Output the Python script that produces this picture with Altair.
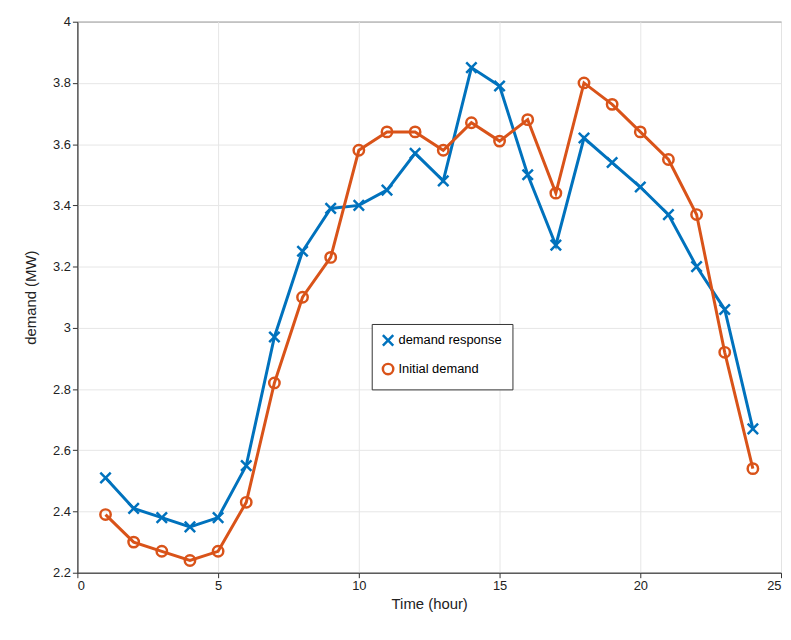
import altair as alt
import pandas as pd

hours = list(range(1, 25))
response = [2.51, 2.41, 2.38, 2.35, 2.38, 2.55, 2.97, 3.25, 3.39, 3.40, 3.45, 3.57,
            3.48, 3.85, 3.79, 3.50, 3.27, 3.62, 3.54, 3.46, 3.37, 3.20, 3.06, 2.67]
initial = [2.39, 2.30, 2.27, 2.24, 2.27, 2.43, 2.82, 3.10, 3.23, 3.58, 3.64, 3.64,
           3.58, 3.67, 3.61, 3.68, 3.44, 3.80, 3.73, 3.64, 3.55, 3.37, 2.92, 2.54]
series = ["demand response", "Initial demand"]

rows = []
for h, a, b in zip(hours, response, initial):
    rows.append({"hour": h, "demand": a, "series": series[0]})
    rows.append({"hour": h, "demand": b, "series": series[1]})
df = pd.DataFrame(rows)

xshape = "M-1,-1L1,1M-1,1L1,-1"
color = alt.Color("series:N", scale=alt.Scale(domain=series, range=["#0072BD", "#D95319"]),
                  legend=alt.Legend(title=None, orient="none", legendX=297, legendY=305,
                                    fillColor="white", strokeColor="#333", padding=10,
                                    labelFontSize=13, labelFont="Liberation Sans",
                                    labelLimit=300, rowPadding=8,
                                    symbolStrokeWidth=2.5, symbolSize=110))
shape = alt.Shape("series:N", scale=alt.Scale(domain=series, range=[xshape, "circle"]), legend=None)

x = alt.X("hour:Q", title="Time (hour)", scale=alt.Scale(domain=[0, 25], nice=False),
          axis=alt.Axis(values=[0, 5, 10, 15, 20, 25], titleFontWeight="normal"))
y = alt.Y("demand:Q", title="demand (MW)", scale=alt.Scale(domain=[2.2, 4], nice=False),
          axis=alt.Axis(values=[2.2, 2.4, 2.6, 2.8, 3, 3.2, 3.4, 3.6, 3.8, 4], format="~f",
                        titleFontWeight="normal", titlePadding=14))

base = alt.Chart(df)
lines = base.mark_line(strokeWidth=3).encode(x=x, y=y, color=color, detail="series:N")
pts = base.mark_point(filled=False, strokeWidth=2.5, size=110, opacity=1).encode(
    x=x, y=y, color=color, shape=shape)

chart = (lines + pts).properties(
    width=710, height=556,
    autosize=alt.AutoSizeParams(type="none"),
    padding={"left": 70, "top": 11, "right": 2, "bottom": 60},
).configure_axis(
    grid=True, gridColor="#e6e6e6", domainColor="#333", tickColor="#333",
    labelFont="Liberation Sans", titleFont="Liberation Sans",
    labelFontSize=13, titleFontSize=15, labelColor="#222", titleColor="#222",
    tickSize=5,
).configure_view(stroke="#333", strokeWidth=1)

chart.save("out.html", embed_options={"renderer": "svg", "actions": False})
